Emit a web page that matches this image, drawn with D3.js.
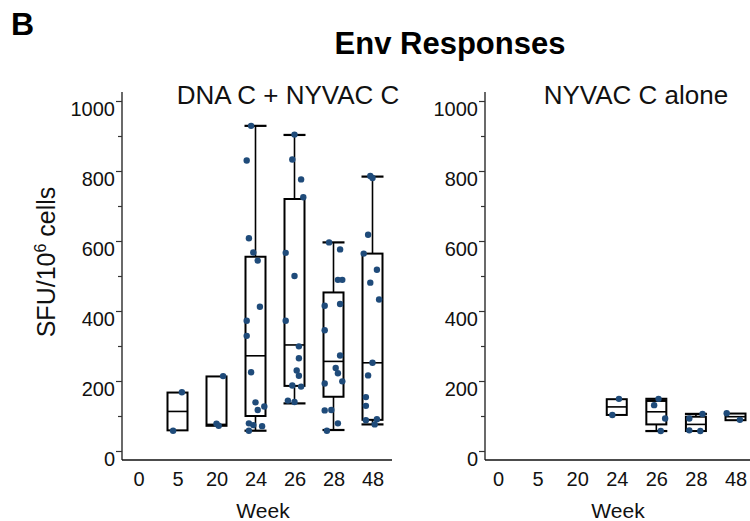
<!DOCTYPE html>
<html>
<head>
<meta charset="utf-8">
<script src="https://cdn.jsdelivr.net/npm/d3@7"></script>
<style>
  html, body { margin: 0; padding: 0; background: #fff; }
  svg { display: block; font-family: "Liberation Sans", Arial, sans-serif; }
</style>
</head>
<body>
<svg id="chart" width="750" height="521"></svg>
<script>
// ---------- data ----------
const weeks = ["0", "5", "20", "24", "26", "28", "48"];
const yMajorTicks = [0, 200, 400, 600, 800, 1000];
const yMinorTicks = [100, 300, 500, 700, 900];
const panelTitles = ["DNA C + NYVAC C", "NYVAC C alone"];

// individual responses per week (SFU/10^6 cells)
const dnaPoints = [
  [],
  [168, 58],
  [214, 78, 72],
  [929, 830, 608, 567, 544, 412, 372, 329, 225, 139, 127, 117, 79, 74, 71, 58],
  [904, 833, 776, 725, 566, 500, 372, 299, 265, 230, 215, 187, 184, 144, 140],
  [596, 576, 489, 489, 420, 415, 345, 273, 237, 222, 199, 193, 117, 116, 79, 58],
  [786, 780, 618, 564, 518, 481, 433, 252, 216, 154, 129, 91, 88, 76]
];
const nyvacPoints = [
  [], [], [],
  [149, 103],
  [149, 131, 93, 57],
  [106, 93, 59, 57],
  [108, 89]
];
// box statistics per week: [min, q1, median, q3, max]
const dnaBoxes = [
  null,
  [59, 59, 113, 167, 167],
  [72, 72, 76, 213, 213],
  [58, 100, 272, 555, 929],
  [136, 186, 303, 720, 903],
  [60, 155, 256, 453, 596],
  [76, 89, 252, 564, 784]
];
const nyvacBoxes = [
  null, null, null,
  [103, 103, 126, 148, 148],
  [57, 76, 112, 143, 149],
  [57, 57, 76, 98, 106],
  [88, 88, 98, 107, 107]
];

// ---------- drawing ----------
const svg = d3.select("#chart");
const dotColor = "#1f4b7a";

svg.append("text").attr("x", 11).attr("y", 35)
  .attr("font-size", 32).attr("font-weight", "bold").text("B");
svg.append("text").attr("x", 450).attr("y", 54).attr("text-anchor", "middle")
  .attr("font-size", 31).attr("font-weight", "bold").text("Env Responses");

const y = d3.scaleLinear().domain([0, 1000]).range([451, 101]);

const panels = [
  { title: panelTitles[0], points: dnaPoints, boxes: dnaBoxes, axisX: 122, endX: 392,
    xRange: [138.5, 372.5], titleX: 288, weekX: 263 },
  { title: panelTitles[1], points: nyvacPoints, boxes: nyvacBoxes, axisX: 485, endX: 750,
    xRange: [498, 735.5], titleX: 636, weekX: 618 }
];

function jitter(i, v) {
  // deterministic spread around the category centre
  return (((i * 7 + Math.round(v)) % 9) - 4) * 2.2;
}

panels.forEach(p => {
  const g = svg.append("g");
  const x = d3.scalePoint().domain(weeks).range(p.xRange);

  // axis lines
  g.append("line").attr("x1", p.axisX).attr("x2", p.axisX).attr("y1", 92).attr("y2", 460)
    .attr("stroke", "#444").attr("stroke-width", 1.6);
  g.append("line").attr("x1", p.axisX).attr("x2", p.endX).attr("y1", 460).attr("y2", 460)
    .attr("stroke", "#111").attr("stroke-width", 1.6);

  // y axis major
  const yAx = g.append("g").attr("transform", `translate(${p.axisX},0)`)
    .call(d3.axisLeft(y).tickValues(yMajorTicks).tickSize(6).tickPadding(1).tickFormat(d3.format("d")));
  yAx.select(".domain").remove();
  yAx.selectAll("line").attr("stroke", "#333").attr("stroke-width", 1.2);
  yAx.selectAll("text").attr("font-size", 20).attr("dy", "0.7em").attr("fill", "#111")
    .attr("font-family", "Liberation Sans, Arial, sans-serif");
  // y axis minor
  const yMin = g.append("g").attr("transform", `translate(${p.axisX},0)`)
    .call(d3.axisLeft(y).tickValues(yMinorTicks).tickSize(4).tickFormat(""));
  yMin.select(".domain").remove();
  yMin.selectAll("line").attr("stroke", "#333").attr("stroke-width", 1.2);

  // x axis labels
  const xAx = g.append("g").attr("transform", "translate(0,460)")
    .call(d3.axisBottom(x).tickSize(0).tickPadding(12));
  xAx.select(".domain").remove();
  xAx.selectAll("text").attr("font-size", 20).attr("fill", "#111")
    .attr("font-family", "Liberation Sans, Arial, sans-serif");

  // titles
  g.append("text").attr("x", p.titleX).attr("y", 104).attr("text-anchor", "middle")
    .attr("font-size", 26).attr("fill", "#111").text(p.title);
  g.append("text").attr("x", p.weekX).attr("y", 518).attr("text-anchor", "middle")
    .attr("font-size", 21).attr("fill", "#111").text("Week");

  // boxes
  const bw = 20;
  weeks.forEach((w, i) => {
    const b = p.boxes[i];
    if (!b) return;
    const cx = x(w);
    const [mn, q1, md, q3, mx] = b;
    const bg = g.append("g").attr("stroke", "#000").attr("fill", "none");
    if (mx > q3) {
      bg.append("line").attr("x1", cx).attr("x2", cx).attr("y1", y(q3)).attr("y2", y(mx)).attr("stroke-width", 1.6);
      bg.append("line").attr("x1", cx - 11).attr("x2", cx + 11).attr("y1", y(mx)).attr("y2", y(mx)).attr("stroke-width", 2.2);
    }
    if (mn < q1) {
      bg.append("line").attr("x1", cx).attr("x2", cx).attr("y1", y(q1)).attr("y2", y(mn)).attr("stroke-width", 1.6);
      bg.append("line").attr("x1", cx - 11).attr("x2", cx + 11).attr("y1", y(mn)).attr("y2", y(mn)).attr("stroke-width", 2.2);
    }
    bg.append("rect").attr("x", cx - bw / 2).attr("width", bw)
      .attr("y", y(q3)).attr("height", y(q1) - y(q3)).attr("stroke-width", 2);
    bg.append("line").attr("x1", cx - bw / 2).attr("x2", cx + bw / 2)
      .attr("y1", y(md)).attr("y2", y(md)).attr("stroke-width", 1.6);
  });

  // points
  weeks.forEach((w, i) => {
    const cx = x(w);
    g.append("g").selectAll("circle").data(p.points[i]).join("circle")
      .attr("cx", (d, k) => cx + jitter(k, d))
      .attr("cy", d => y(d))
      .attr("r", 3.2)
      .attr("fill", dotColor);
  });
});

// y axis title
const yt = svg.append("text")
  .attr("transform", "translate(55,262) rotate(-90)")
  .attr("text-anchor", "middle").attr("font-size", 25).attr("fill", "#111");
yt.append("tspan").text("SFU/10");
yt.append("tspan").attr("font-size", 16).attr("dy", -9).text("6");
yt.append("tspan").attr("dy", 9).text(" cells");
</script>
</body>
</html>
